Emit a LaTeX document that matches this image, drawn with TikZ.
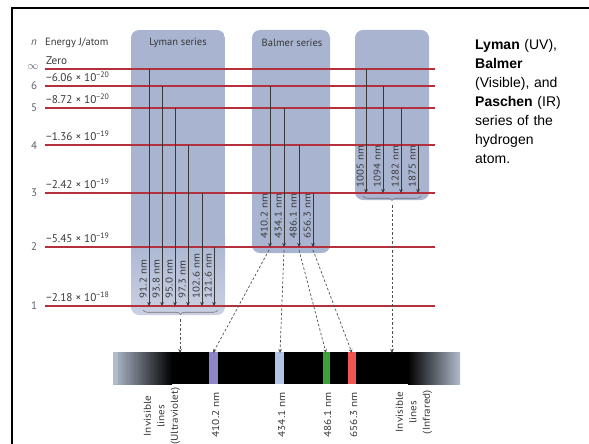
\documentclass[tikz,border=0pt]{standalone}
\usepackage{fontspec}
\setmainfont{PT Sans}
\newfontfamily\arialfont{Liberation Sans}
\newfontfamily\widefont[FakeStretch=1.12]{PT Sans}
\usetikzlibrary{arrows.meta,decorations.pathreplacing,calc}
\definecolor{boxc}{HTML}{A8B4D0}
\definecolor{boxl}{HTML}{CBD1E3}
\definecolor{lvl}{HTML}{B3303C}
\definecolor{txt}{HTML}{383838}
\definecolor{dash}{HTML}{505050}
\definecolor{bviolet}{HTML}{8C86C8}
\definecolor{bblue}{HTML}{B4C4E6}
\definecolor{bgreen}{HTML}{3FA13A}
\definecolor{bred}{HTML}{EE5550}
\definecolor{edgec}{HTML}{B0BCCC}
\tikzset{
  lvlline/.style={lvl, line width=1.3pt},
  trans/.style={draw=txt, line width=0.6pt, -{Stealth[length=4pt,width=3.6pt]}},
  dashar/.style={draw=dash, line width=0.7pt, dash pattern=on 2.5pt off 2pt, -{Stealth[length=4pt,width=3.6pt]}},
  wl/.style={rotate=90, anchor=south west, inner sep=0.8pt, font=\widefont\fontsize{9.8}{12}\selectfont, text=txt},
  brc/.style={draw=dash!80, line width=0.6pt, decorate, decoration={brace, amplitude=4.5pt}},
  seriesbox/.style={fill=boxc, rounded corners=8pt},
  botlab/.style={rotate=90, font=\widefont\fontsize{10}{13.5}\selectfont, text=txt, align=center, inner sep=0pt},
  elab/.style={anchor=base west, inner sep=0pt, font=\fontsize{11.2}{13}\selectfont, text=txt},
  nlab/.style={inner sep=0pt, font=\fontsize{11}{13}\selectfont, text=txt!80},
  ttl/.style={font=\fontsize{10.5}{12}\selectfont, text=txt}
}
\begin{document}
\begin{tikzpicture}[x=1pt,y=-1pt]
\useasboundingbox (0,0) rectangle (589,444);
% frame
\draw[line width=2.5pt] (589,8) -- (12,8) -- (12,444);
% series boxes
\begin{scope}
  \clip[rounded corners=8pt] (131,30) rectangle (225,315);
  \fill[boxc] (131,30) rectangle (225,236);
  \shade[top color=boxc, bottom color=boxl] (131,235) rectangle (225,315);
\end{scope}
\fill[seriesbox] (252,30) rectangle (330,253);
\fill[seriesbox] (355,30) rectangle (429,200);
\node[ttl] (lyt) at (178,43) {Lyman series};
\node[ttl] (bat) at (292,43) {Balmer series};
% headings
\node[nlab, font=\itshape\fontsize{11}{13}\selectfont] (nh) at (34,43) {n};
\node[ttl, anchor=west, inner sep=0pt] (eh) at (45,43) {Energy J/atom};
% levels
\foreach \n/\y in {inf/69, 6/86, 5/108, 4/145, 3/193, 2/247, 1/306}{
  \coordinate (l\n w) at (45,\y);
  \coordinate (l\n e) at (435,\y);
  \draw[lvlline] (l\n w) -- (l\n e);
}
\node[nlab] (ninf) at (33,67) {$\infty$};
\foreach \n/\y in {6/86, 5/108, 4/146, 3/193, 2/247, 1/306}{
  \node[nlab] (n\n) at (34,\y) {\n};
}
\node[elab] (e0) at (46,64.5) {Zero};
\node[elab] (e6) at (46,81.5) {−6.06 × 10\textsuperscript{−20}};
\node[elab] (e5) at (46,103.5) {−8.72 × 10\textsuperscript{−20}};
\node[elab] (e4) at (46,140.5) {−1.36 × 10\textsuperscript{−19}};
\node[elab] (e3) at (46,188.5) {−2.42 × 10\textsuperscript{−19}};
\node[elab] (e2) at (46,242.5) {−5.45 × 10\textsuperscript{−19}};
\node[elab] (e1) at (46,301.5) {−2.18 × 10\textsuperscript{−18}};
% Lyman transitions
\foreach \i/\x/\ys/\lab in {1/149/69/91.2, 2/162/86/93.8, 3/175/108/95.0, 4/188/145/97.3, 5/202/193/102.6, 6/214/247/121.6}{
  \coordinate (lys\i) at (\x,\ys);
  \coordinate (lye\i) at (\x,306);
  \draw[trans] (lys\i) -- (lye\i);
  \node[wl] (lyl\i) at (\x-1.2,299) {\lab\ nm};
}
% Balmer transitions
\foreach \i/\x/\ys/\lab in {1/270/86/410.2, 2/284/108/434.1, 3/299/145/486.1, 4/313/193/656.3}{
  \coordinate (bas\i) at (\x,\ys);
  \coordinate (bae\i) at (\x,247);
  \draw[trans] (bas\i) -- (bae\i);
  \node[wl] (bal\i) at (\x-1.2,239) {\lab\ nm};
}
% Paschen transitions
\foreach \i/\x/\ys/\lab in {1/366/69/1005, 2/383/86/1094, 3/401/108/1282, 4/418/145/1875}{
  \coordinate (pas\i) at (\x,\ys);
  \coordinate (pae\i) at (\x,193);
  \draw[trans] (pas\i) -- (pae\i);
  \node[wl] (pal\i) at (\x-1.2,188) {\lab\ nm};
}
% braces
\coordinate (lyb1) at (218,310);
\coordinate (lyb2) at (143,310);
\draw[brc] (lyb1) -- (lyb2);
\coordinate (lytip) at (180,319);
\coordinate (pab1) at (421,196);
\coordinate (pab2) at (363,196);
\draw[brc] (pab1) -- (pab2);
\coordinate (patip) at (392,205);
% spectrum
\fill[black] (170,352) rectangle (410,384);
\shade[left color=edgec, right color=black] (113,352) rectangle (172,384);
\shade[left color=black, right color=edgec] (408,352) rectangle (460,384);
\fill[edgec] (113,352) rectangle (118,384);
\fill[bviolet] (209,352) rectangle (218,384);
\fill[bblue] (275,352) rectangle (284,384);
\fill[bgreen] (323,352) rectangle (330,384);
\fill[bred] (348,352) rectangle (356,384);
\coordinate (sp1) at (180,353);
\coordinate (sp2) at (213,353);
\coordinate (sp3) at (280,353);
\coordinate (sp4) at (326,353);
\coordinate (sp5) at (352,353);
\coordinate (sp6) at (392,353);
% dashed arrows
\draw[dashar] (lytip) -- (sp1);
\draw[dashar] ($(bae1)+(-1,3)$) -- (sp2);
\draw[dashar] ($(bae2)+(0,3)$) -- (sp3);
\draw[dashar] ($(bae3)+(0,3)$) -- (sp4);
\draw[dashar] ($(bae4)+(0,3)$) -- (sp5);
\draw[dashar] (patip) -- (sp6);
% bottom labels
\node[botlab] (uv) at (162,416) {Invisible\\lines\\(Ultraviolet)};
\node[botlab, anchor=east] (w1) at (215.5,392) {410.2 nm};
\node[botlab, anchor=east] (w2) at (281.5,392) {434.1 nm};
\node[botlab, anchor=east] (w3) at (327.5,392) {486.1 nm};
\node[botlab, anchor=east] (w4) at (353.5,392) {656.3 nm};
\node[botlab] (ir) at (414,412) {Invisible\\lines\\(Infrared)};
% side text
\node[anchor=north west, inner sep=0pt, text width=112pt, align=left,
      font=\arialfont\fontsize{14}{19}\selectfont] (side) at (475,39.5)
  {\textbf{Lyman} (UV),\\ \textbf{Balmer}\\ (Visible), and\\ \textbf{Paschen} (IR)\\ series of the\\ hydrogen\\ atom.};
\end{tikzpicture}
\end{document}
